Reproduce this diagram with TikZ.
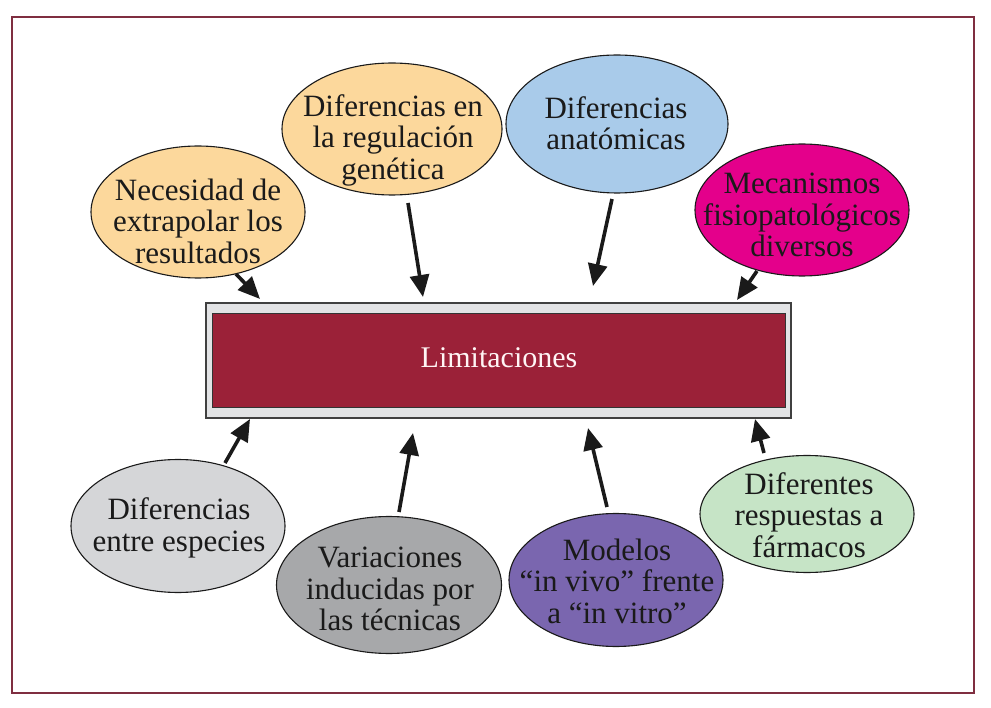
\documentclass[tikz,border=0pt]{standalone}
\usepackage{fontspec}
\setmainfont{Liberation Serif}
\usetikzlibrary{shapes.geometric,arrows.meta}
\definecolor{framec}{HTML}{7F2E40}
\definecolor{orangec}{HTML}{FCD89C}
\definecolor{bluec}{HTML}{A9CBEA}
\definecolor{magc}{HTML}{E4008B}
\definecolor{lgrayc}{HTML}{D5D6D8}
\definecolor{grayc}{HTML}{A7A8AA}
\definecolor{purplec}{HTML}{7A66AF}
\definecolor{greenc}{HTML}{C6E4C6}
\definecolor{boxgray}{HTML}{E2E3E5}
\definecolor{crimson}{HTML}{9B2138}
\definecolor{inkc}{HTML}{1A1A1A}
\begin{document}
\begin{tikzpicture}[x=1pt,y=-1pt,
  bub/.style={ellipse, draw=inkc, line width=1.1pt, inner sep=0pt},
  txt/.style={align=center, font=\fontsize{31}{31.5}\selectfont, text=inkc, inner sep=0pt},
  arr/.style={-{Triangle[length=22pt,width=19pt]}, line width=3.6pt, draw=inkc, line cap=butt}]
\useasboundingbox (0,0) rectangle (991,708);
% frame
\node[draw=framec, line width=1.6pt, minimum width=962pt, minimum height=676pt, inner sep=0pt] (frame) at (493,355) {};
% central box
\node[draw=black!75, line width=1.3pt, fill=boxgray, minimum width=585pt, minimum height=115pt, inner sep=0pt] (box) at (498.5,360.5) {};
\node[draw=black!80, line width=1pt, fill=crimson, minimum width=573pt, minimum height=94pt, inner sep=0pt] (lim) at (498.5,361) {};
\node[txt, font=\fontsize{30}{31.5}\selectfont, text=white!96!red] (limt) at (499,358) {Limitaciones};
% ellipses
\node[bub, fill=orangec, minimum width=214pt, minimum height=132pt] (nec) at (198,212) {};
\node[txt] (nect) at (198,221) {Necesidad de\\extrapolar los\\resultados};
\node[bub, fill=orangec, minimum width=220pt, minimum height=132pt] (reg) at (392,129) {};
\node[txt] (regt) at (393,140) {Diferencias en\\la regulación\\genética};
\node[bub, fill=bluec, minimum width=222pt, minimum height=138pt] (ana) at (617,124) {};
\node[txt] (anat) at (616,123) {Diferencias\\anatómicas};
\node[bub, fill=magc, minimum width=214pt, minimum height=132pt] (mec) at (802,210) {};
\node[txt] (mect) at (802,215) {Mecanismos\\fisiopatológicos\\diversos};
\node[bub, fill=lgrayc, minimum width=214pt, minimum height=133pt] (esp) at (178,526) {};
\node[txt] (espt) at (179,528) {Diferencias\\entre especies};
\node[bub, fill=grayc, minimum width=225pt, minimum height=137pt] (var) at (389,585) {};
\node[txt] (vart) at (390,589) {Variaciones\\inducidas por\\las técnicas};
\node[bub, fill=purplec, minimum width=214pt, minimum height=133pt] (mod) at (616,580) {};
\node[txt] (modt) at (617,581) {Modelos\\“in vivo” frente\\a “in vitro”};
\node[bub, fill=greenc, minimum width=214pt, minimum height=117pt] (far) at (807,514) {};
\node[txt] (fart) at (809,515) {Diferentes\\respuestas a\\fármacos};
% arrow ends
\coordinate (a1) at (236,274); \coordinate (b1) at (260,299);
\coordinate (a2) at (408,203); \coordinate (b2) at (423,297);
\coordinate (a3) at (612,199); \coordinate (b3) at (593,286);
\coordinate (a4) at (757,271); \coordinate (b4) at (737,300);
\coordinate (a5) at (225,463); \coordinate (b5) at (250,419);
\coordinate (a6) at (399,512); \coordinate (b6) at (413,433);
\coordinate (a7) at (607,507); \coordinate (b7) at (588,428);
\coordinate (a8) at (764,453); \coordinate (b8) at (755,419);
\foreach \i in {1,...,8} {\draw[arr] (a\i) -- (b\i);}
\end{tikzpicture}
\end{document}
